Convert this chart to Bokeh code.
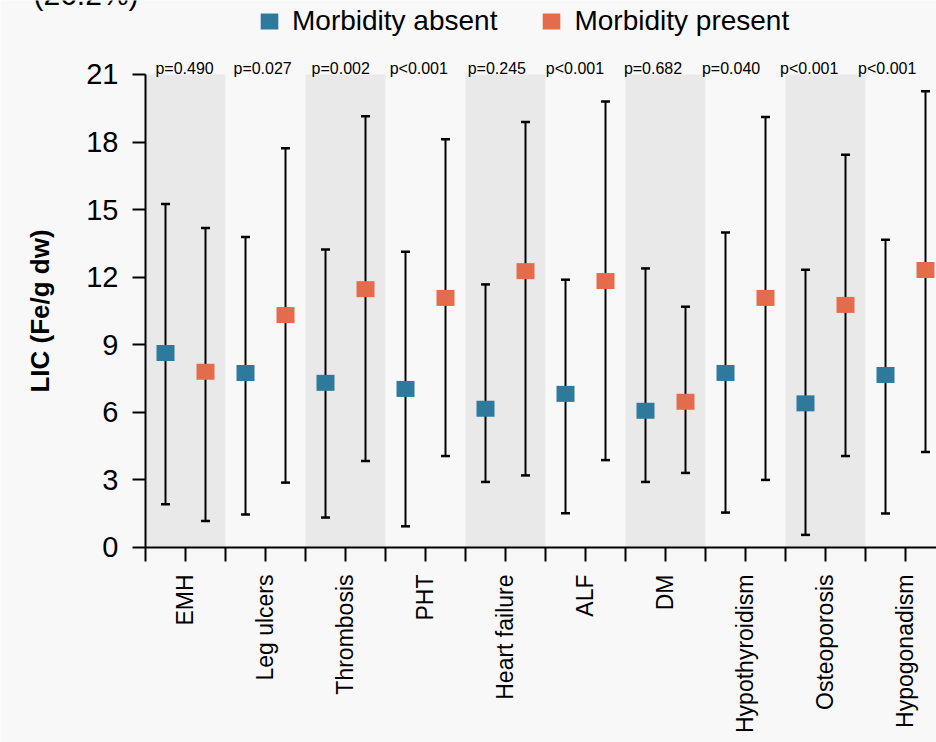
from bokeh.plotting import figure
from bokeh.models import (Range1d, FixedTicker, Legend, LegendItem, Label,
                          ColumnDataSource, Whisker, TeeHead)
from bokeh.core.properties import value
from bokeh.embed import file_html
from bokeh.resources import INLINE

categories = ["EMH", "Leg ulcers", "Thrombosis", "PHT", "Heart failure", "ALF", "DM",
              "Hypothyroidism", "Osteoporosis", "Hypogonadism"]
pvalues = ["p=0.490", "p=0.027", "p=0.002", "p<0.001", "p=0.245", "p<0.001", "p=0.682",
           "p=0.040", "p<0.001", "p<0.001"]
absent_mean = [8.64, 7.75, 7.31, 7.04, 6.16, 6.82, 6.07, 7.75, 6.40, 7.66]
absent_low = [1.92, 1.46, 1.33, 0.94, 2.91, 1.52, 2.91, 1.55, 0.56, 1.51]
absent_high = [15.25, 13.79, 13.23, 13.13, 11.68, 11.89, 12.39, 13.99, 12.33, 13.66]
present_mean = [7.80, 10.32, 11.47, 11.08, 12.27, 11.83, 6.47, 11.08, 10.77, 12.32]
present_low = [1.18, 2.88, 3.84, 4.06, 3.20, 3.88, 3.31, 3.00, 4.06, 4.24]
present_high = [14.18, 17.72, 19.15, 18.12, 18.89, 19.80, 10.69, 19.11, 17.44, 20.26]
y_ticks = [0, 3, 6, 9, 12, 15, 18, 21]
y_max = 21

FONT = "Liberation Sans"
BG = "#f8f8f8"
BAND = "#e9e9e9"
C_ABS = "#2e7a9c"
C_PRE = "#e46c4c"

n = len(categories)
centers = [i + 0.5 for i in range(n)]

# the frame covers the whole canvas; both axes are pinned at data zero
p = figure(width=936, height=742, x_range=Range1d(-1.8125, 9.8875), y_range=Range1d(-8.658, 24.285),
           output_backend="svg", toolbar_location=None,
           min_border_left=0, min_border_right=0, min_border_top=0, min_border_bottom=0,
           background_fill_color=BG, border_fill_color=BG, outline_line_color=None)
p.grid.visible = False

# alternating shaded bands
band_idx = [i for i in range(n) if i % 2 == 0]
p.quad(left=band_idx, right=[i + 1 for i in band_idx], bottom=0, top=y_max,
       fill_color=BAND, line_color=None, level="underlay")

src_a = ColumnDataSource(dict(x=[i + 0.25 for i in range(n)], y=absent_mean,
                              lo=absent_low, hi=absent_high))
src_p = ColumnDataSource(dict(x=[i + 0.75 for i in range(n)], y=present_mean,
                              lo=present_low, hi=present_high))

for src in (src_a, src_p):
    w = Whisker(source=src, base="x", lower="lo", upper="hi", line_color="black", line_width=2,
                lower_head=TeeHead(size=9, line_width=2.5, line_color="black"),
                upper_head=TeeHead(size=9, line_width=2.5, line_color="black"),
                level="underlay")
    p.add_layout(w)

r_a = p.rect(x="x", y="y", width=18, height=16, width_units="screen", height_units="screen",
             source=src_a, fill_color=C_ABS, line_color=None)
r_p = p.rect(x="x", y="y", width=18, height=16, width_units="screen", height_units="screen",
             source=src_p, fill_color=C_PRE, line_color=None)

# p-values above each pair
pv_x = [(i + 0.5) * 0.976 for i in range(n)]
p.text(x=pv_x, y=[y_max] * n, text=pvalues, text_align="center", text_baseline="alphabetic",
       y_offset=-6, text_font=value(FONT), text_font_size="16px", text_color="black")

# x axis
xa = p.xaxis[0]
xa.fixed_location = 0
xa.bounds = (0, 9.8875)
xa.ticker = FixedTicker(ticks=centers, minor_ticks=list(range(n + 1)))
xa.major_label_overrides = {c: lab for c, lab in zip(centers, categories)}
xa.major_label_orientation = 1.5707963267948966
xa.major_label_text_font = FONT
xa.major_label_text_font_size = "23px"
xa.major_label_text_color = "black"
xa.major_label_standoff = 13
xa.axis_line_color = "black"
xa.axis_line_width = 2
xa.major_tick_line_color = "black"
xa.major_tick_line_width = 2
xa.minor_tick_line_color = "black"
xa.minor_tick_line_width = 2
xa.major_tick_out = 14
xa.major_tick_in = 0
xa.minor_tick_out = 14
xa.minor_tick_in = 0

# y axis
ya = p.yaxis[0]
ya.fixed_location = 0
ya.bounds = (0, y_max)
ya.ticker = FixedTicker(ticks=y_ticks)
ya.axis_label = "LIC (Fe/g dw)"
ya.axis_label_text_font = FONT
ya.axis_label_text_font_style = "bold"
ya.axis_label_text_font_size = "26px"
ya.axis_label_text_color = "black"
ya.axis_label_standoff = 28
ya.major_label_text_font = FONT
ya.major_label_text_font_size = "29px"
ya.major_label_text_color = "black"
ya.major_label_standoff = 14
ya.axis_line_color = "black"
ya.axis_line_width = 2
ya.major_tick_line_color = "black"
ya.major_tick_line_width = 2
ya.major_tick_out = 13
ya.major_tick_in = 0
ya.minor_tick_line_color = None

legend = Legend(items=[LegendItem(label="Morbidity absent", renderers=[r_a]),
                       LegendItem(label="Morbidity present", renderers=[r_p])],
                orientation="horizontal", location=(258, 705),
                glyph_width=22, glyph_height=20, label_standoff=12, spacing=43,
                padding=0, margin=0, border_line_color=None, background_fill_alpha=0,
                label_text_font=FONT, label_text_font_size="28px", label_text_color="black")
p.add_layout(legend, "center")

p.add_layout(Label(x=33, y=732, x_units="screen", y_units="screen", text="(26.2%)",
                   text_font=FONT, text_font_size="30px", text_color="black"))

open("out.html", "w").write(file_html(p, INLINE))
